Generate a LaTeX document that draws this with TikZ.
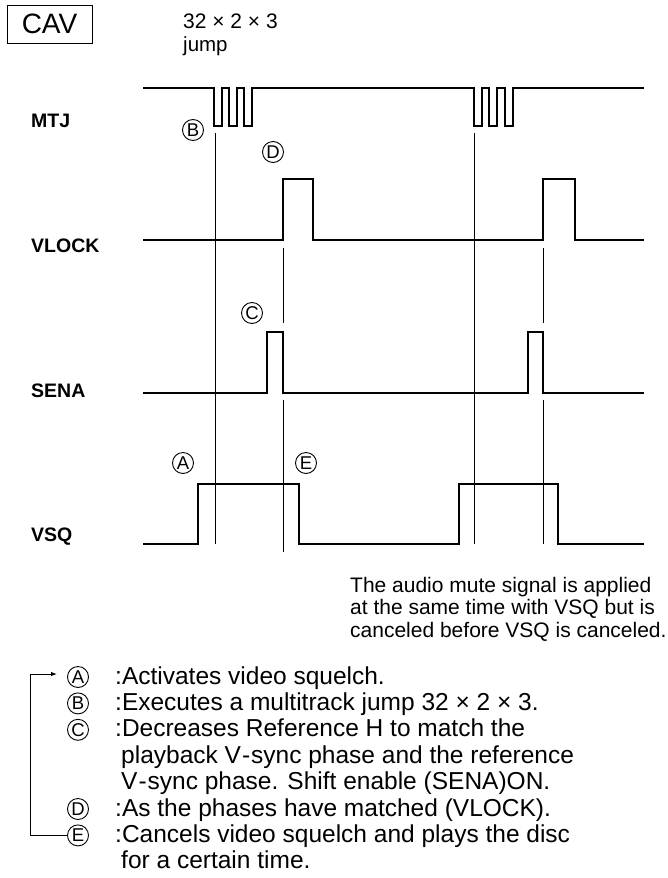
\documentclass[tikz,border=0pt]{standalone}
\usepackage{fontspec}
\setmainfont{Liberation Sans}
\usetikzlibrary{arrows.meta}
\begin{document}
\begin{tikzpicture}[x=1pt,y=-1pt]
\tikzset{
  wave/.style={line width=2.2pt, line join=miter, line cap=butt},
  guide/.style={line width=0.7pt},
  circl/.style={circle, draw, line width=0.9pt, inner sep=0pt, minimum size=21pt, font=\fontsize{18.5}{18.5}\selectfont},
  sig/.style={anchor=base west, inner sep=0pt, font=\bfseries\fontsize{19.5}{19.5}\selectfont},
  note/.style={anchor=base west, align=left, font=\fontsize{21}{22.5}\selectfont, inner sep=0pt},
  item/.style={anchor=base west, inner sep=0pt, font=\fontsize{24.5}{24.5}\selectfont},
}
\useasboundingbox (0,0) rectangle (668,878);
\fill[white] (0,0) rectangle (668,878);

% header
\node[draw, line width=1pt, minimum width=85pt, minimum height=38pt, inner sep=0pt,
      font=\fontsize{28}{28}\selectfont] (cav) at (49.5,24) {CAV};
\node[anchor=base west, inner sep=0pt, font=\fontsize{21}{21}\selectfont] (jmpnum) at (183,28) {32 × 2 × 3};
\node[anchor=base west, inner sep=0pt, font=\fontsize{20.5}{20.5}\selectfont] (jmp) at (183,51) {jump};

% signal labels
\node[sig] (lmtj) at (31,127) {MTJ};
\node[sig] (lvlock) at (31,252) {VLOCK};
\node[sig] (lsena) at (31,397) {SENA};
\node[sig] (lvsq) at (31,541) {VSQ};

% waveforms
\draw[wave] (143,88) -- (214,88) -- (214,126) -- (222,126) -- (222,88) -- (229,88) -- (229,126)
  -- (237,126) -- (237,88) -- (244,88) -- (244,126) -- (252,126) -- (252,88)
  -- (474,88) -- (474,126) -- (482,126) -- (482,88) -- (489,88) -- (489,126)
  -- (497,126) -- (497,88) -- (505,88) -- (505,126) -- (513,126) -- (513,88) -- (644,88);
\draw[wave] (143,240) -- (283,240) -- (283,179) -- (313,179) -- (313,240)
  -- (543,240) -- (543,179) -- (575,179) -- (575,240) -- (644,240);
\draw[wave] (143,393) -- (267,393) -- (267,332) -- (283,332) -- (283,393)
  -- (528,393) -- (528,332) -- (543,332) -- (543,393) -- (644,393);
\draw[wave] (143,544) -- (198,544) -- (198,484) -- (299,484) -- (299,544)
  -- (459,544) -- (459,484) -- (558,484) -- (558,544) -- (644,544);

% guide lines
\draw[guide] (215,133) -- (215,544);
\draw[guide] (283,248) -- (283,323);
\draw[guide] (283,400) -- (283,552);
\draw[guide] (474,133) -- (474,544);
\draw[guide] (543,248) -- (543,323);
\draw[guide] (543,400) -- (543,544);

% event markers
\node[circl] (mb) at (193,130) {B};
\node[circl] (md) at (273,152) {D};
\node[circl] (mc) at (252,313) {C};
\node[circl] (ma) at (183,463) {A};
\node[circl] (me) at (306,463) {E};

% note
\node[note] (note) at (350,637) {The audio mute signal is applied\\at the same time with VSQ but is\\canceled before VSQ is canceled.};

% legend
\node[circl] (la) at (78,677) {A};
\node[circl] (lb) at (78,703.4) {B};
\node[circl] (lc) at (78,729.8) {C};
\node[circl] (ld) at (78,809) {D};
\node[circl] (le) at (78,835.4) {E};
\node[item] (ta) at (115,684) {:Activates video squelch.};
\node[item] (tb) at (115,710.4) {:Executes a multitrack jump 32 × 2 × 3.};
\node[item] (tc1) at (115,736.8) {:Decreases Reference H to match the};
\node[item] (tc2) at (121,763.2) {playback V\kern1pt-\kern1pt sync phase and the reference};
\node[item] (tc3) at (121,789.6) {V\kern1pt-\kern1pt sync phase. Shift enable (SENA)ON.};
\node[item] (td) at (115,816) {:As the phases have matched (VLOCK).};
\node[item] (te1) at (115,842.4) {:Cancels video squelch and plays the disc};
\node[item] (te2) at (121,868.8) {for a certain time.};

\coordinate (btop) at (30,674);
\draw[line width=1pt, -{Latex[length=6pt,width=4.5pt]}] (le.west) -| (btop) -- (57,674);
\end{tikzpicture}
\end{document}
